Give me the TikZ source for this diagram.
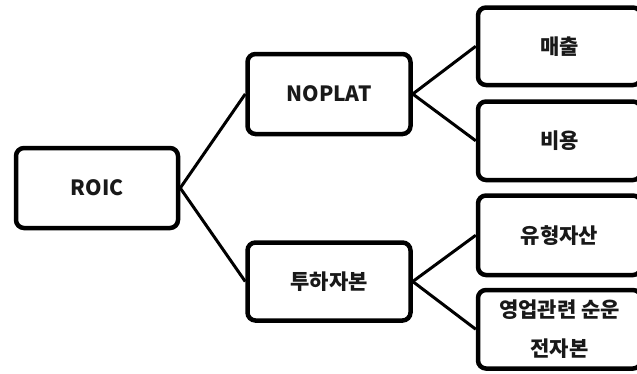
\documentclass[tikz,border=0pt]{standalone}
\usepackage{fontspec}
\newfontfamily\kr{Noto Sans CJK KR}
\begin{document}
\begin{tikzpicture}[x=1pt,y=-1pt,
  box/.style={draw=black, line width=4.5pt, rounded corners=8pt, fill=white,
    minimum width=163pt, minimum height=79pt, inner sep=0pt, align=center,
    font=\kr\bfseries\fontsize{21pt}{39pt}\selectfont, text=black!90},
  link/.style={line width=3pt, black}]
\useasboundingbox (0,0) rectangle (637,373);
\clip (0,0) rectangle (637,373);
\node[box, minimum width=162pt, minimum height=80pt] (roic) at (97,188) {ROIC};
\node[box, minimum height=80pt] (noplat) at (329,94) {NOPLAT};
\node[box, minimum height=78pt] (tuha) at (329,281.5) {투하자본};
\node[box, minimum height=77.5pt] (mae) at (559.5,46.25) {매출};
\node[box, minimum height=78.5pt] (biy) at (559.5,140.75) {비용};
\node[box, minimum height=79.5pt] (yuh) at (559.5,235.25) {유형자산};
\node[box, minimum height=78.5pt] (yeo) at (559.5,329.25) {영업관련 순운\\전자본};
\draw[link] (roic.east) -- (noplat.west);
\draw[link] (roic.east) -- (tuha.west);
\draw[link] (noplat.east) -- (mae.west);
\draw[link] (noplat.east) -- (biy.west);
\draw[link] (tuha.east) -- (yuh.west);
\draw[link] (tuha.east) -- (yeo.west);
\end{tikzpicture}
\end{document}
